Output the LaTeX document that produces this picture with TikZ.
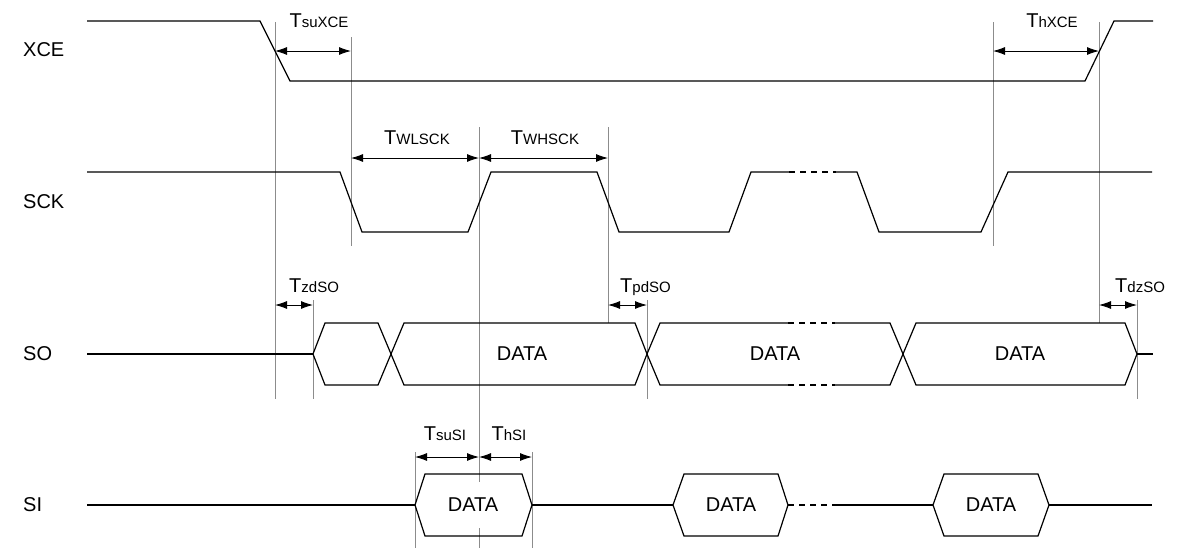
\documentclass[tikz,border=0pt]{standalone}
\usepackage{fontspec}
\setmainfont{Liberation Sans}
\usetikzlibrary{arrows.meta}
\newcommand\sigfont{\fontsize{20pt}{20pt}\selectfont}
\newcommand\subfont{\fontsize{15pt}{15pt}\selectfont}
\newcommand\tparam[1]{T{\subfont #1}}
\begin{document}
\begin{tikzpicture}[x=1pt,y=-1pt,
  wave/.style={line width=1.2pt, line join=miter},
  gapline/.style={wave, dash pattern=on 6pt off 5pt},
  guide/.style={line width=0.9pt, draw=black!45},
  span/.style={line width=0.9pt, {Latex[length=12pt,width=8pt]}-{Latex[length=12pt,width=8pt]}},
  signame/.style={font=\sigfont, inner sep=0pt, anchor=west},
  tlabel/.style={font=\sigfont, inner sep=0pt, anchor=base},
  tlabelw/.style={font=\sigfont, inner sep=0pt, anchor=base west},
  data/.style={font=\sigfont, fill=white, inner xsep=3pt, inner ysep=0pt, minimum height=46pt}
]
\useasboundingbox (0,0) rectangle (1179,550);

% timing reference lines
\foreach \x/\ya/\yb in {275/22/399, 351/37/246, 479/127/548, 608/127/323,
                        993/22/246, 1099/22/323, 313/300/399, 647/300/399,
                        1137/300/399, 415/452/548, 532/452/548}
  \draw[guide] (\x,\ya) -- (\x,\yb);

% signal names
\node[signame] (nXCE) at (23,50)  {XCE};
\node[signame] (nSCK) at (23,202) {SCK};
\node[signame] (nSO)  at (23,354) {SO};
\node[signame] (nSI)  at (23,505) {SI};

% XCE
\draw[wave] (87,21) -- (260,21) -- (290,81) -- (1085,81) -- (1114,21) -- (1153,21);

% SCK
\draw[wave] (87,172) -- (340,172) -- (362,232) -- (468,232) -- (491,172)
  -- (597,172) -- (619,232) -- (729,232) -- (751,172) -- (789,172);
\draw[gapline] (789,172) -- (836,172);
\draw[wave] (836,172) -- (857,172) -- (879,232) -- (981,232) -- (1008,172) -- (1152,172);

% SO
\draw[wave] (87,354) -- (313,354);
\draw[wave] (313,354) -- (325,323) -- (378,323) -- (391,354) -- (378,385) -- (325,385) -- cycle;
\draw[wave] (391,354) -- (404,323) -- (635,323) -- (647,354) -- (635,385) -- (404,385) -- cycle;
\draw[wave] (788,323) -- (660,323) -- (647,354) -- (660,385) -- (788,385);
\draw[gapline] (788,323) -- (835,323);
\draw[gapline] (788,385) -- (835,385);
\draw[wave] (835,323) -- (890,323) -- (903,354) -- (890,385) -- (835,385);
\draw[wave] (903,354) -- (916,323) -- (1125,323) -- (1137,354) -- (1125,385) -- (916,385) -- cycle;
\draw[wave] (1137,354) -- (1153,354);

% SI
\draw[wave] (87,505) -- (415,505);
\draw[wave] (415,505) -- (425,474) -- (522,474) -- (532,505) -- (522,536) -- (425,536) -- cycle;
\draw[wave] (532,505) -- (673,505);
\draw[wave] (673,505) -- (684,474) -- (778,474) -- (788,505) -- (778,536) -- (684,536) -- cycle;
\draw[gapline] (788,505) -- (834,505);
\draw[wave] (834,505) -- (933,505);
\draw[wave] (933,505) -- (944,474) -- (1038,474) -- (1049,505) -- (1038,536) -- (944,536) -- cycle;
\draw[wave] (1049,505) -- (1152,505);

% data labels
\node[data] (so1) at (522,354) {DATA};
\node[data] (so2) at (775,354) {DATA};
\node[data] (so3) at (1020,354) {DATA};
\node[data] (si1) at (473,505) {DATA};
\node[data] (si2) at (731,505) {DATA};
\node[data] (si3) at (991,505) {DATA};

% timing parameters
\coordinate (suXa) at (275,51);  \coordinate (suXb) at (351,51);
\coordinate (hXa)  at (993,51);  \coordinate (hXb)  at (1099,51);
\coordinate (wLa)  at (351,158); \coordinate (wLb)  at (479,158);
\coordinate (wHb)  at (608,158);
\coordinate (zdA)  at (275,305); \coordinate (zdB)  at (313,305);
\coordinate (pdA)  at (608,305); \coordinate (pdB)  at (647,305);
\coordinate (dzA)  at (1099,305);\coordinate (dzB)  at (1137,305);
\coordinate (sSa)  at (415,457); \coordinate (sSb)  at (479,457);
\coordinate (hSb)  at (532,457);

\draw[span] (suXa) -- (suXb);
\draw[span] (hXa) -- (hXb);
\draw[span] (wLa) -- (wLb);
\draw[span] (wLb) -- (wHb);
\draw[span] (zdA) -- (zdB);
\draw[span] (pdA) -- (pdB);
\draw[span] (dzA) -- (dzB);
\draw[span] (sSa) -- (sSb);
\draw[span] (sSb) -- (hSb);

\node[tlabel]  (lsuX) at (319,27)  {\tparam{suXCE}};
\node[tlabel]  (lhX)  at (1052,27) {\tparam{hXCE}};
\node[tlabel]  (lwL)  at (417,144) {\tparam{WLSCK}};
\node[tlabel]  (lwH)  at (545,144) {\tparam{WHSCK}};
\node[tlabelw] (lzd)  at (289,292) {\tparam{zdSO}};
\node[tlabelw] (lpd)  at (620,292) {\tparam{pdSO}};
\node[tlabelw] (ldz)  at (1115,292){\tparam{dzSO}};
\node[tlabel]  (lsS)  at (445,440) {\tparam{suSI}};
\node[tlabel]  (lhS)  at (509,440) {\tparam{hSI}};
\end{tikzpicture}
\end{document}
